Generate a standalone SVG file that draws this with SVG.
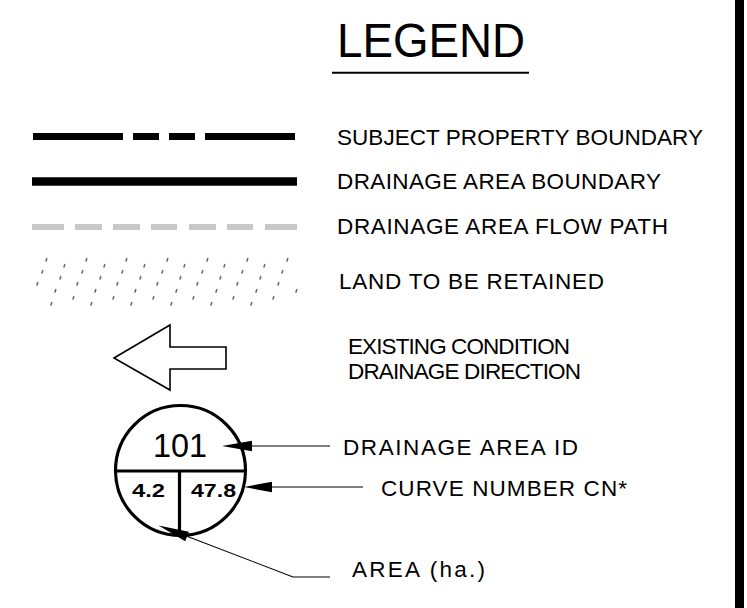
<svg xmlns="http://www.w3.org/2000/svg" width="747" height="608" viewBox="0 0 747 608">
<style>
.lbl{font-family:"Liberation Sans",Arial,sans-serif;font-size:22.5px;fill:#000}
.ttl{font-family:"Liberation Sans",Arial,sans-serif;font-size:48px;fill:#000}
.thick{stroke:#000;stroke-width:3.2;fill:none}
.lead{stroke:#000;stroke-width:1.1;fill:none}
.head{fill:#000;stroke:none}
</style>
<rect width="747" height="608" fill="#fff"/>
<rect id="border" x="735" y="0" width="9" height="608" fill="#000"/>
<g id="title">
<text class="ttl" x="337" y="57" textLength="188" lengthAdjust="spacingAndGlyphs">LEGEND</text>
<line x1="332" y1="72.7" x2="529" y2="72.7" stroke="#000" stroke-width="2"/>
</g>
<g id="subject-property">
<path d="M33 136.5H123M133 136.5H159M169 136.5H195M205 136.5H295" stroke="#000" stroke-width="7" fill="none"/>
<text class="lbl" x="337" y="145" textLength="366">SUBJECT PROPERTY BOUNDARY</text>
</g>
<g id="drainage-boundary">
<line x1="32" y1="181.5" x2="297" y2="181.5" stroke="#000" stroke-width="8.5"/>
<text class="lbl" x="337" y="188.5" textLength="324">DRAINAGE AREA BOUNDARY</text>
</g>
<g id="flow-path">
<path d="M32 227H64M75 227H102M113 227H140M151 227H177M189 227H216M227 227H253M265 227H297" stroke="#c8c8c8" stroke-width="6" fill="none"/>
<text class="lbl" x="337" y="233.5" textLength="331">DRAINAGE AREA FLOW PATH</text>
</g>
<g id="land-retained">
<path stroke="#666" stroke-width="1.5" stroke-linecap="round" fill="none" d="
M46 261l0.8 -2.4M86 261l0.8 -2.4M126 261l0.8 -2.4M167 261l0.8 -2.4M207 261l0.8 -2.4M247 261l0.8 -2.4M287 261l0.8 -2.4
M64 267l0.8 -2.4M104 267l0.8 -2.4M144 267l0.8 -2.4M184 267l0.8 -2.4M224 267l0.8 -2.4M264 267l0.8 -2.4
M42 273l0.8 -2.4M82 273l0.8 -2.4M122 273l0.8 -2.4M162 273l0.8 -2.4M202 273l0.8 -2.4M242 273l0.8 -2.4M282 273l0.8 -2.4
M60 279l0.8 -2.4M100 279l0.8 -2.4M140 279l0.8 -2.4M180 279l0.8 -2.4M220 279l0.8 -2.4M260 279l0.8 -2.4
M37 285l0.8 -2.4M77 285l0.8 -2.4M117 285l0.8 -2.4M157 285l0.8 -2.4M197 285l0.8 -2.4M237 285l0.8 -2.4M278 285l0.8 -2.4
M55 292l0.8 -2.4M95 292l0.8 -2.4M135 292l0.8 -2.4M176 292l0.8 -2.4M216 292l0.8 -2.4M256 292l0.8 -2.4M296 292l0.8 -2.4
M73 299l0.8 -2.4M113 299l0.8 -2.4M153 299l0.8 -2.4M193 299l0.8 -2.4M233 299l0.8 -2.4M273 299l0.8 -2.4
M51 305l0.8 -2.4M91 305l0.8 -2.4M131 305l0.8 -2.4M171 305l0.8 -2.4M211 305l0.8 -2.4M251 305l0.8 -2.4"/>
<text class="lbl" x="339" y="288.5" textLength="265">LAND TO BE RETAINED</text>
</g>
<g id="drainage-direction">
<polygon points="114,358 170,325 170,347 226,347 226,369 170,369 170,390" fill="#fff" stroke="#000" stroke-width="1.6" stroke-linejoin="miter"/>
<text class="lbl" x="348" y="353.5" textLength="222">EXISTING CONDITION</text>
<text class="lbl" x="348" y="378.5" textLength="233">DRAINAGE DIRECTION</text>
</g>
<g id="id-symbol">
<circle cx="180.5" cy="470.5" r="65" class="thick" fill="#fff"/>
<line x1="115" y1="471" x2="246" y2="471" class="thick"/>
<line x1="179.5" y1="471" x2="179.5" y2="536" class="thick"/>
<text x="180" y="457" text-anchor="middle" font-family="Liberation Sans,Arial,sans-serif" font-size="34" textLength="54" lengthAdjust="spacingAndGlyphs">101</text>
<text x="148.5" y="497" text-anchor="middle" font-family="Liberation Sans,Arial,sans-serif" font-size="18" font-weight="bold" textLength="33" lengthAdjust="spacingAndGlyphs">4.2</text>
<text x="213.5" y="497" text-anchor="middle" font-family="Liberation Sans,Arial,sans-serif" font-size="18" font-weight="bold" textLength="45" lengthAdjust="spacingAndGlyphs">47.8</text>
</g>
<g id="connectors">
<line x1="250" y1="446" x2="330" y2="446" class="lead"/>
<polygon points="222,446 252,440.7 252,451.3" class="head"/>
<line x1="270" y1="487" x2="363" y2="487" class="lead"/>
<polygon points="244,487 272,481.7 272,492.3" class="head"/>
<polyline points="185,535.5 293,577 330,577" class="lead"/>
<polygon points="158.5,525.5 185.2,541.2 188.8,531.8" class="head"/>
</g>
<g id="labels">
<text class="lbl" x="343" y="455" textLength="235">DRAINAGE AREA ID</text>
<text class="lbl" x="381" y="496" textLength="246">CURVE NUMBER CN*</text>
<text class="lbl" x="352" y="577" textLength="133">AREA (ha.)</text>
</g>
</svg>
